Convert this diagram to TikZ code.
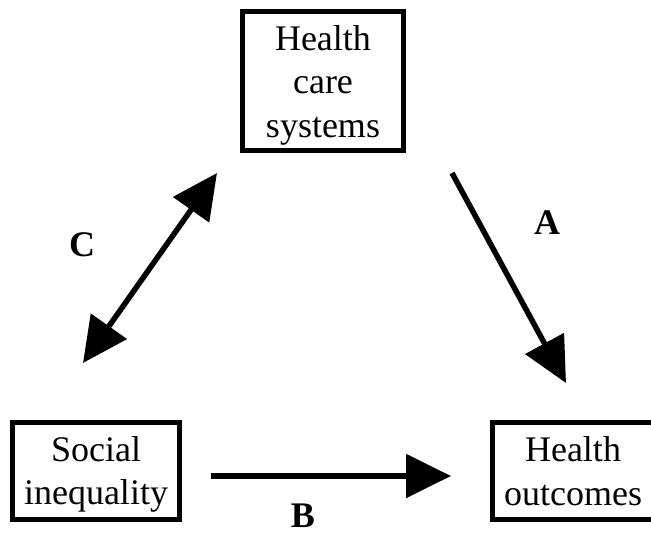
\documentclass[tikz,border=0pt]{standalone}
\usepackage{fontspec}
\setmainfont{Liberation Serif}
\usetikzlibrary{arrows.meta}

\tikzset{
  x=1pt, y=-1pt,
  framebox/.style={draw, line width=5pt, inner sep=0pt},
  boxtext/.style={align=center, inner sep=0pt,
    font=\fontsize{36}{43.5}\selectfont},
  pathlabel/.style={inner sep=0pt, font=\fontsize{36}{43.5}\selectfont\bfseries},
  link/.style={line width=5.5pt, -{Triangle[length=45pt, width=43pt]}},
  biglink/.style={line width=5.5pt, {Triangle[length=45pt, width=43pt]}-{Triangle[length=45pt, width=43pt]}},
}

\begin{document}
\begin{tikzpicture}
  \useasboundingbox (0,0) rectangle (651,538);
  \clip (0,0) rectangle (651,538);

  % boxes
  \node[framebox, minimum width=161pt, minimum height=139pt] (hcs) at (323,81) {};
  \node[boxtext] (hcs-t) at (323,85) {Health\\care\\systems};

  \node[framebox, minimum width=167pt, minimum height=97pt] (si) at (96,471) {};
  \node[boxtext] (si-t) at (96,474.6) {Social\\inequality};

  \node[framebox, minimum width=170pt, minimum height=97pt] (ho) at (577.5,471) {};
  \node[boxtext] (ho-t) at (573,471.2) {Health\\outcomes};

  % arrow end points
  \coordinate (a1) at (452,173);
  \coordinate (a2) at (566,383);
  \coordinate (b1) at (211,476);
  \coordinate (b2) at (451,476);
  \coordinate (c1) at (217,173);
  \coordinate (c2) at (83,363);

  \draw[link] (a1) -- (a2);
  \draw[link] (b1) -- (b2);
  \draw[biglink] (c2) -- (c1);

  % path labels
  \node[pathlabel] (la) at (547,223) {A};
  \node[pathlabel] (lb) at (303,516) {B};
  \node[pathlabel] (lc) at (82,245) {C};
\end{tikzpicture}
\end{document}
